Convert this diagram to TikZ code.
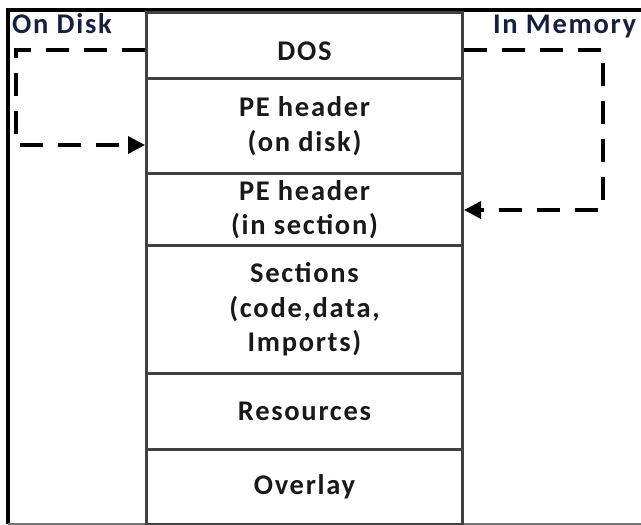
\documentclass[tikz,border=0pt]{standalone}
\usepackage{fontspec}
\setmainfont{Carlito}
\usetikzlibrary{arrows.meta}
\newcommand\rowfont{\fontsize{28.5}{34.5}\selectfont\bfseries\addfontfeature{LetterSpace=6}}
\definecolor{labnavy}{RGB}{22,32,60}
\begin{document}
\begin{tikzpicture}[x=1pt,y=-1pt,
  row/.style={draw=black!75,line width=3pt,minimum width=316pt,anchor=north west,inner sep=0pt,align=center,font=\rowfont,text=black!90},
  conn/.style={line width=3.5pt,dash pattern=on 23pt off 15pt,-{Triangle[length=17pt,width=17pt]}},
  lab/.style={font=\rowfont,text=labnavy,anchor=base west,inner sep=0pt}]
\useasboundingbox (0,0) rectangle (641,525);
% outer frame
\draw[line width=3.5pt] (641,10) -- (8,10) -- (8,524);
\draw[line width=2pt,black!55] (8,524) -- (641,524);
% rows
\node[row,minimum height=66pt,text height=29pt,text depth=0pt] (dos) at (145,11) {DOS};
\node[row,minimum height=95pt] (pedisk) at (145,77) {PE header\\(on disk)};
\node[row,minimum height=72pt] (pesec) at (145,172) {PE header\\(in section)};
\node[row,minimum height=128pt] (sections) at (145,244) {Sections\\(code,data,\\Imports)};
\node[row,minimum height=76pt] (res) at (145,372) {Resources};
\node[row,minimum height=75pt] (overlay) at (145,448) {Overlay};
% labels
\node[lab] (ondisk) at (12,33) {On Disk};
\node[lab] (inmem) at (493,33) {In Memory};
% connectors
\coordinate (l1) at (16,50);
\coordinate (l2) at (16,145);
\draw[conn] (dos.west |- l1) -- (l1) -- (l2) -- (pedisk.west |- l2);
\coordinate (r1) at (603,50);
\coordinate (r2) at (603,210);
\draw[conn] (dos.east |- r1) -- (r1) -- (r2) -- (pesec.east |- r2);
\end{tikzpicture}
\end{document}
